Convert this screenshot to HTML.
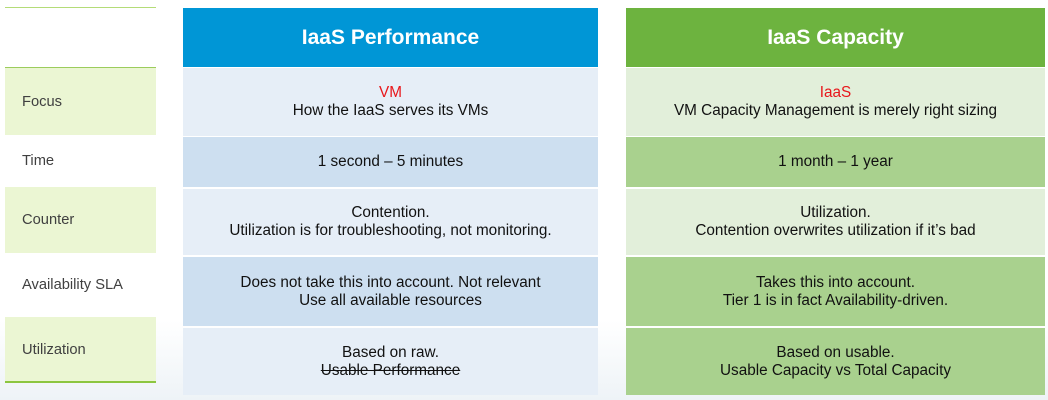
<!DOCTYPE html>
<html><head><meta charset="utf-8"><style>
body{margin:0;width:1048px;height:400px;background:#fff;position:relative;overflow:hidden;font-family:"Liberation Sans",sans-serif;}
.a{position:absolute;box-sizing:border-box;}
.l{left:5px;width:151px;font-size:14.7px;color:#404040;display:flex;align-items:center;padding-left:17px;}
.c{display:flex;flex-direction:column;align-items:center;justify-content:center;font-size:15.3px;color:#111;text-align:center;line-height:18px;}
.h{display:flex;align-items:center;justify-content:center;color:#fff;font-weight:bold;font-size:21px;}
.m{left:183px;width:415px;}
.r{left:626px;width:419px;}
.red{color:#e8171b;}
</style></head><body>
<div class="a" style="left:0;top:320px;width:1048px;height:80px;background:linear-gradient(#fff,#eef3f7);"></div>
<div class="a" style="left:5px;top:7px;width:151px;height:1px;background:#b4dc78;"></div>
<div class="a" style="left:5px;top:67px;width:151px;height:1px;background:#9ccc5c;"></div>
<div class="a l" style="top:68px;height:67px;background:#ebf6d3;">Focus</div>
<div class="a l" style="top:135px;height:52px;">Time</div>
<div class="a l" style="top:187px;height:66px;background:#ebf6d3;">Counter</div>
<div class="a l" style="top:253px;height:64px;">Availability SLA</div>
<div class="a l" style="top:317px;height:65px;background:#ebf6d3;">Utilization</div>
<div class="a" style="left:5px;top:381px;width:151px;height:2px;background:#8cc63f;"></div>

<div class="a m h" style="top:8px;height:59px;background:#0096d6;">IaaS Performance</div>
<div class="a m c" style="top:68px;height:68px;background:#e6eef7;"><span class="red">VM</span><span>How the IaaS serves its VMs</span></div>
<div class="a m c" style="top:137px;height:50px;background:#cddff0;">1 second – 5 minutes</div>
<div class="a m c" style="top:189px;height:66px;background:#e6eef7;"><span>Contention.</span><span>Utilization is for troubleshooting, not monitoring.</span></div>
<div class="a m c" style="top:257px;height:69px;background:#cddff0;"><span>Does not take this into account. Not relevant</span><span>Use all available resources</span></div>
<div class="a m c" style="top:328px;height:67px;background:#e6eef7;"><span>Based on raw.</span><span style="text-decoration:line-through">Usable Performance</span></div>

<div class="a r h" style="top:8px;height:59px;background:#6db33f;">IaaS Capacity</div>
<div class="a r c" style="top:68px;height:68px;background:#e2efda;"><span class="red">IaaS</span><span>VM Capacity Management is merely right sizing</span></div>
<div class="a r c" style="top:137px;height:50px;background:#a9d18e;">1 month – 1 year</div>
<div class="a r c" style="top:189px;height:66px;background:#e2efda;"><span>Utilization.</span><span>Contention overwrites utilization if it’s bad</span></div>
<div class="a r c" style="top:257px;height:69px;background:#a9d18e;"><span>Takes this into account.</span><span>Tier 1 is in fact Availability-driven.</span></div>
<div class="a r c" style="top:328px;height:67px;background:#a9d18e;"><span>Based on usable.</span><span>Usable Capacity vs Total Capacity</span></div>
</body></html>
